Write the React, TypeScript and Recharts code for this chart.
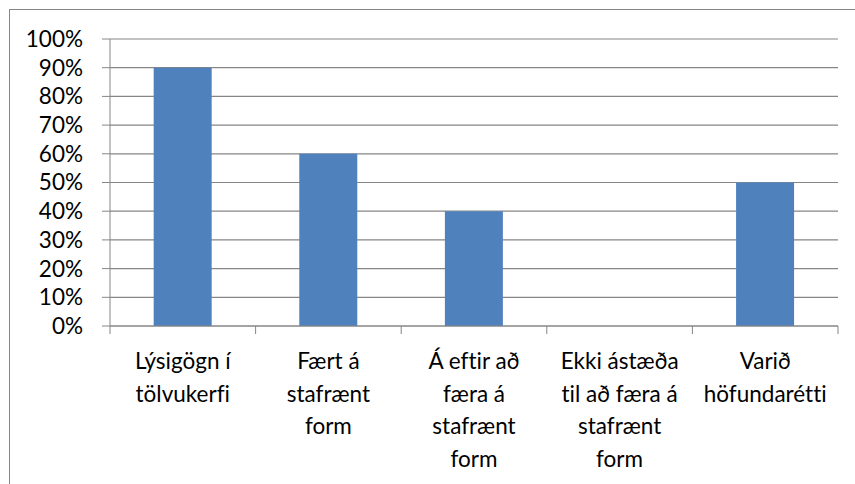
import { BarChart, Bar, XAxis, YAxis, CartesianGrid } from 'recharts';

const categories = [
  'Lýsigögn í tölvukerfi',
  'Fært á stafrænt form',
  'Á eftir að færa á stafrænt form',
  'Ekki ástæða til að færa á stafrænt form',
  'Varið höfundarétti',
];
const labelLines = [
  ['Lýsigögn í', 'tölvukerfi'],
  ['Fært á', 'stafrænt', 'form'],
  ['Á eftir að', 'færa á', 'stafrænt', 'form'],
  ['Ekki ástæða', 'til að færa á', 'stafrænt', 'form'],
  ['Varið', 'höfundarétti'],
];
const values = [0.9, 0.6, 0.4, 0, 0.5];
const yTicks = [0, 0.1, 0.2, 0.3, 0.4, 0.5, 0.6, 0.7, 0.8, 0.9, 1];

const data = categories.map((name, i) => ({ name, value: values[i] }));

const FONT = 'Lato, sans-serif';
const GRAY = '#868686';

const CategoryTick = (props: any) => {
  const { x, y, payload, index, width } = props;
  const half = payload.offset || width / categories.length / 2;
  const lines = labelLines[index] || [payload.value];
  return (
    <g>
      <line x1={x - half} y1={y} x2={x - half} y2={y + 8} stroke={GRAY} />
      {index === categories.length - 1 && (
        <line x1={x + half} y1={y} x2={x + half} y2={y + 8} stroke={GRAY} />
      )}
      <text
        x={x}
        y={y}
        textAnchor="middle"
        fontFamily={FONT}
        fontSize={22.5}
        fill="#000"
        style={{ fontVariantLigatures: 'none' }}
      >
        {lines.map((l: string, i: number) => (
          <tspan key={i} x={x} dy={i === 0 ? 43 : 32.5}>
            {l}
          </tspan>
        ))}
      </text>
    </g>
  );
};

export default function App() {
  return (
    <div style={{ position: 'absolute', left: 0, top: 0, width: 855, height: 484, overflow: 'hidden', background: '#fff' }}>
      <div
        style={{
          position: 'absolute',
          left: 9,
          top: 9,
          width: 900,
          height: 500,
          border: '1.5px solid ' + GRAY,
        }}
      />
      <div style={{ position: 'absolute', left: 0, top: 0 }}>
        <BarChart
          width={855}
          height={484}
          data={data}
          margin={{ top: 39, right: 17, bottom: 8, left: 10 }}
          barCategoryGap="30%"
        >
          <CartesianGrid vertical={false} stroke={GRAY} strokeWidth={1.2} />
          <XAxis
            dataKey="name"
            interval={0}
            height={150}
            tickLine={false}
            tickSize={0}
            tickMargin={0}
            axisLine={{ stroke: GRAY }}
            tick={<CategoryTick />}
          />
          <YAxis
            width={100}
            domain={[0, 1]}
            ticks={yTicks}
            interval={0}
            tickFormatter={(v: number) => `${Math.round(v * 100)}%`}
            tickSize={8}
            tickMargin={19}
            tickLine={{ stroke: GRAY }}
            axisLine={{ stroke: GRAY }}
            tick={{ fontFamily: FONT, fontSize: 22.5, fill: '#000' }}
          />
          <Bar dataKey="value" fill="#4F81BD" isAnimationActive={false} />
        </BarChart>
      </div>
    </div>
  );
}
